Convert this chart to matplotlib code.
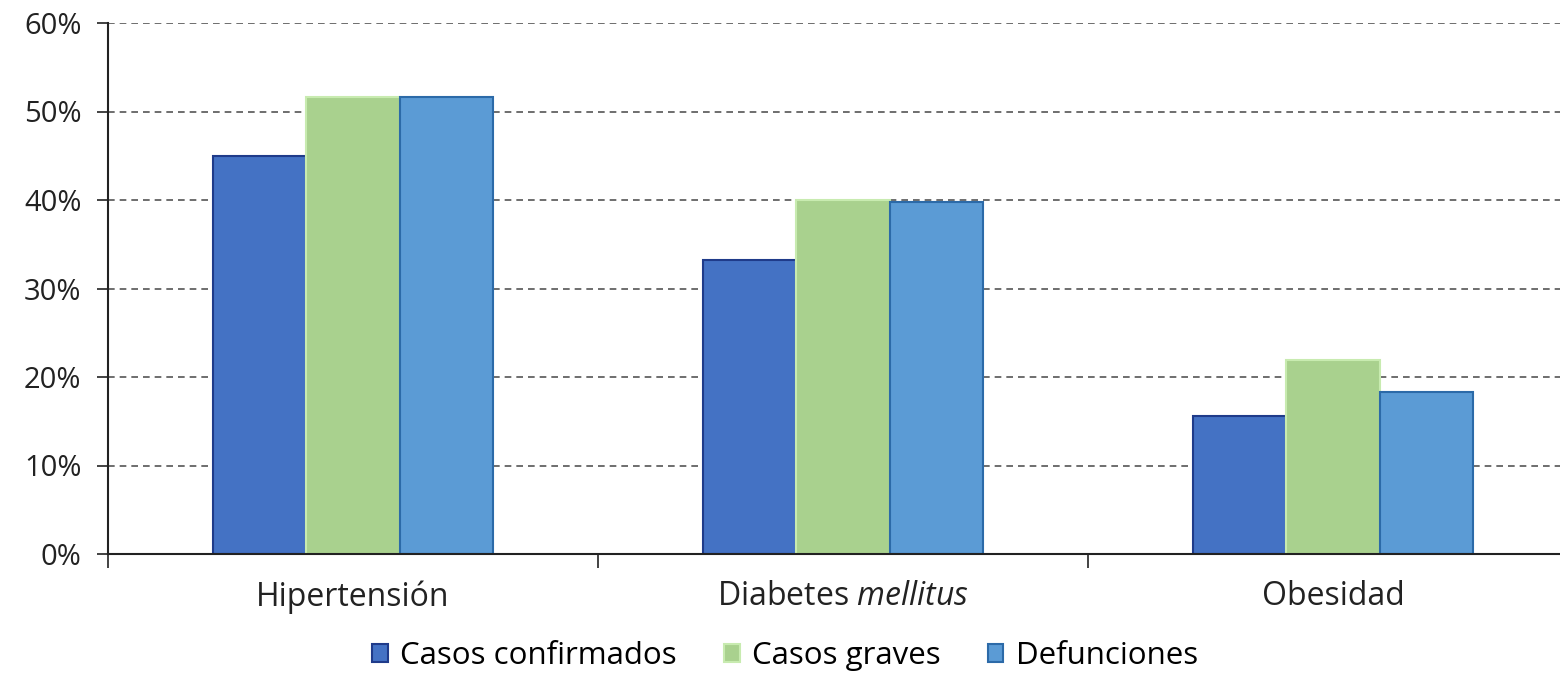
import matplotlib
matplotlib.use("Agg")
import matplotlib.pyplot as plt
import numpy as np
from matplotlib.ticker import FuncFormatter, FixedLocator

plt.rcParams['font.family'] = ['Open Sans', 'DejaVu Sans']
plt.rcParams['mathtext.fontset'] = 'custom'
plt.rcParams['mathtext.rm'] = 'Open Sans'
plt.rcParams['mathtext.it'] = 'Open Sans:italic'

categories = ["Hipertensión", "Diabetes $\\mathit{mellitus}$", "Obesidad"]
series_names = ["Casos confirmados", "Casos graves", "Defunciones"]
confirmados = [45.0, 33.2, 15.6]
graves = [51.6, 40.0, 21.9]
defunciones = [51.6, 39.8, 18.3]
y_ticks = [0, 10, 20, 30, 40, 50, 60]

colors = ["#4472C4", "#A9D18E", "#5B9BD5"]
edges = ["#1F3B8A", "#C8EBB0", "#2C6AA8"]

fig = plt.figure(figsize=(15.6, 6.76), dpi=100)
ax = fig.add_axes([108/1560, 122/676, 1470/1560, 531/676])

x = np.arange(len(categories))
w = 0.19
for i, (vals, name) in enumerate(zip([confirmados, graves, defunciones], series_names)):
    ax.bar(x + (i - 1) * w, vals, width=w, color=colors[i], edgecolor=edges[i],
           linewidth=1.5, label=name, zorder=3)

ax.set_xlim(-0.5, len(categories) - 0.5)
ax.set_ylim(0, 60)
ax.yaxis.set_major_locator(FixedLocator(y_ticks))
ax.yaxis.set_major_formatter(FuncFormatter(lambda v, p: f"{v:.0f}%"))
ax.tick_params(axis='y', length=8, width=1.2, labelsize=21, colors="#222222", pad=11, direction='out')

ax.set_xticks(x)
ax.set_xticklabels(categories)
ax.tick_params(axis='x', which='major', length=0, labelsize=23, pad=19, colors="#222222")
ax.set_xticks(np.arange(-0.5, len(categories) - 0.5, 1.0), minor=True)
ax.tick_params(axis='x', which='minor', length=10, width=1.2, direction='out', color="#222222")

for s in ['top', 'right']:
    ax.spines[s].set_visible(False)
for s in ['left', 'bottom']:
    ax.spines[s].set_linewidth(1.5)
    ax.spines[s].set_color("#222222")
    ax.spines[s].set_zorder(4)

for t in y_ticks[1:]:
    ax.axhline(t, color="#555555", linestyle=(0, (4, 3)), linewidth=1.2, zorder=1)

leg = fig.legend(loc='center', bbox_to_anchor=(785/1560, 1 - 656/676), ncol=3, frameon=False,
                 fontsize=22.5, handlelength=0.5, handleheight=0.5, handletextpad=0.4,
                 columnspacing=1.5)

fig.savefig("out.png", dpi=100)
